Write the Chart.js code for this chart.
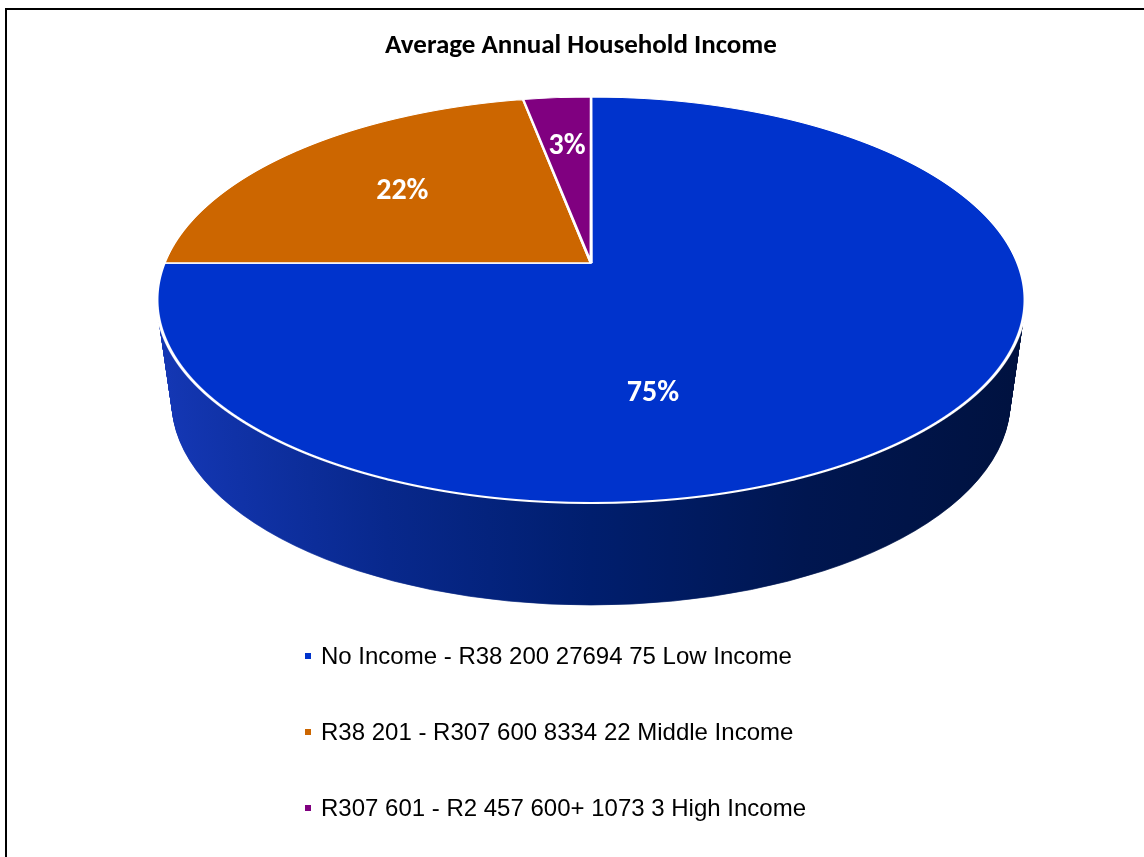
<!DOCTYPE html>
<html>
<head>
<meta charset="utf-8">
<script src="https://cdn.jsdelivr.net/npm/chart.js@4/dist/chart.umd.min.js"></script>
<style>
  html, body { margin: 0; padding: 0; overflow: hidden; background: #fff; }
  #frame { position: absolute; left: 5px; top: 8px; width: 1200px; height: 900px;
           border-left: 2px solid #000; border-top: 2px solid #000; }
  #wrap { position: absolute; left: 0; top: 0; width: 1144px; height: 857px; }
  #legend { position: absolute; left: 305px; top: 640px;
            font-family: "Liberation Sans", Arial, sans-serif; font-size: 24px; color: #000; }
  #legend .item { height: 76px; }
  #legend .row { display: flex; align-items: center; height: 32px; white-space: nowrap; }
  #legend .box { width: 6px; height: 6px; margin-right: 10px; flex: none; }
</style>
</head>
<body>
<div id="frame"></div>
<div id="wrap"><canvas id="incomeChart"></canvas></div>
<div id="legend"></div>
<script>
const categories = [
  'No Income - R38 200 27694 75 Low Income',
  'R38 201 - R307 600 8334 22 Middle Income',
  'R307 601 - R2 457 600+ 1073 3 High Income'
];
const shares = [75, 22, 3];
const sliceColors = ['#0033cc', '#cc6600', '#800080'];

// tilted pie placement (screen px): top edge, centre point, front edge, half width
const CX = 591, TOP = 97, APEX = 263, BOTTOM = 503, HALF_W = 434;
const DEPTH = 102, NARROW = 15;

// perspective of the pie plane, v = -1 at the back, +1 at the front
const PC = (2 * APEX - TOP - BOTTOM) / (BOTTOM - TOP);
const PP = (APEX - TOP) + TOP * PC;
const SX = HALF_W * Math.sqrt(1 - PC * PC);
const rowOf = v => (PP * v + APEX) / (1 + PC * v);
const vOf = Y => (Y - APEX) / (PP - Y * PC);

const pie3d = {
  id: 'pie3d',
  beforeDatasetsDraw(chart) {
    const ctx = chart.ctx;
    const arcs = chart.getDatasetMeta(0).data;
    const x = arcs[0].x, y = arcs[0].y, r = arcs[0].outerRadius;
    const W = chart.width, H = chart.height;

    // side wall: outline of the face is an ellipse, pushed down and drawn narrower
    const EC = rowOf(-PC), ERY = (BOTTOM - TOP) / 2;
    const g = ctx.createLinearGradient(x - r, 0, x + r, 0);
    g.addColorStop(0, 'rgb(20,55,180)');
    g.addColorStop(0.26, 'rgb(8,40,140)');
    g.addColorStop(0.5, 'rgb(0,30,110)');
    g.addColorStop(0.75, 'rgb(0,22,80)');
    g.addColorStop(1, 'rgb(0,18,64)');
    ctx.save();
    ctx.beginPath();
    ctx.rect(0, APEX, W, H - APEX);
    ctx.clip();
    for (let d = DEPTH; d >= 1; d--) {
      ctx.save();
      ctx.translate(CX, EC + d);
      ctx.scale((HALF_W - NARROW * d / DEPTH) / r, ERY / r);
      ctx.translate(-x, -y);
      arcs.forEach(a => {
        const o = a.options;
        a.options = Object.assign({}, o, {backgroundColor: g, borderColor: g, borderWidth: 1});
        a.draw(ctx);
        a.options = o;
      });
      ctx.restore();
    }
    ctx.restore();

    // top face, row by row through the perspective map
    for (let Y = TOP - 3; Y < BOTTOM + 3; Y++) {
      const v0 = Math.max(-1, Math.min(1, vOf(Y + 0.5)));
      const den = 1 + PC * v0;
      ctx.save();
      ctx.beginPath();
      ctx.rect(0, Y, W, 1);
      ctx.clip();
      ctx.translate(CX, rowOf(v0));
      ctx.scale(SX / den / r, (PP - PC * APEX) / (den * den) / r);
      ctx.translate(-x, -(y + v0 * r));
      arcs.forEach(a => a.draw(ctx));
      ctx.restore();
    }

    // percentage labels at slice centroids
    const total = shares.reduce((s, v) => s + v, 0);
    ctx.save();
    ctx.fillStyle = '#fff';
    ctx.font = 'bold 30px Carlito, Lato, sans-serif';
    ctx.textAlign = 'center';
    ctx.textBaseline = 'middle';
    arcs.forEach((a, i) => {
      const half = (a.endAngle - a.startAngle) / 2;
      const mid = a.startAngle + half;
      const f = 2 * Math.sin(half) / (3 * half);
      const u = Math.cos(mid) * f, v = Math.sin(mid) * f;
      const lx = CX + SX * u / (1 + PC * v);
      const ly = rowOf(v) + (v > 0 ? DEPTH : 0);
      ctx.fillText(Math.round(shares[i] / total * 100) + '%', lx, ly);
    });
    ctx.restore();
    return false;
  }
};

const chart = new Chart(document.getElementById('incomeChart'), {
  type: 'pie',
  data: {
    labels: categories,
    datasets: [{
      data: shares,
      backgroundColor: sliceColors,
      borderColor: '#ffffff',
      borderWidth: 3,
      radius: 434
    }]
  },
  options: {
    responsive: true,
    maintainAspectRatio: false,
    animation: false,
    events: [],
    layout: { padding: { left: 18 } },
    plugins: {
      legend: { display: false },
      tooltip: { enabled: false },
      title: {
        display: true,
        text: 'Average Annual Household Income',
        color: '#000',
        font: { family: 'Carlito, Lato, sans-serif', size: 27, weight: 'bold' },
        padding: { top: 30, bottom: 10 }
      }
    }
  },
  plugins: [pie3d]
});

// legend list under the pie
const legend = document.getElementById('legend');
chart.data.labels.forEach((label, i) => {
  const item = document.createElement('div');
  item.className = 'item';
  item.innerHTML = '<div class="row"><span class="box" style="background:' +
    chart.data.datasets[0].backgroundColor[i] + '"></span>' + label + '</div>';
  legend.appendChild(item);
});
</script>
</body>
</html>
